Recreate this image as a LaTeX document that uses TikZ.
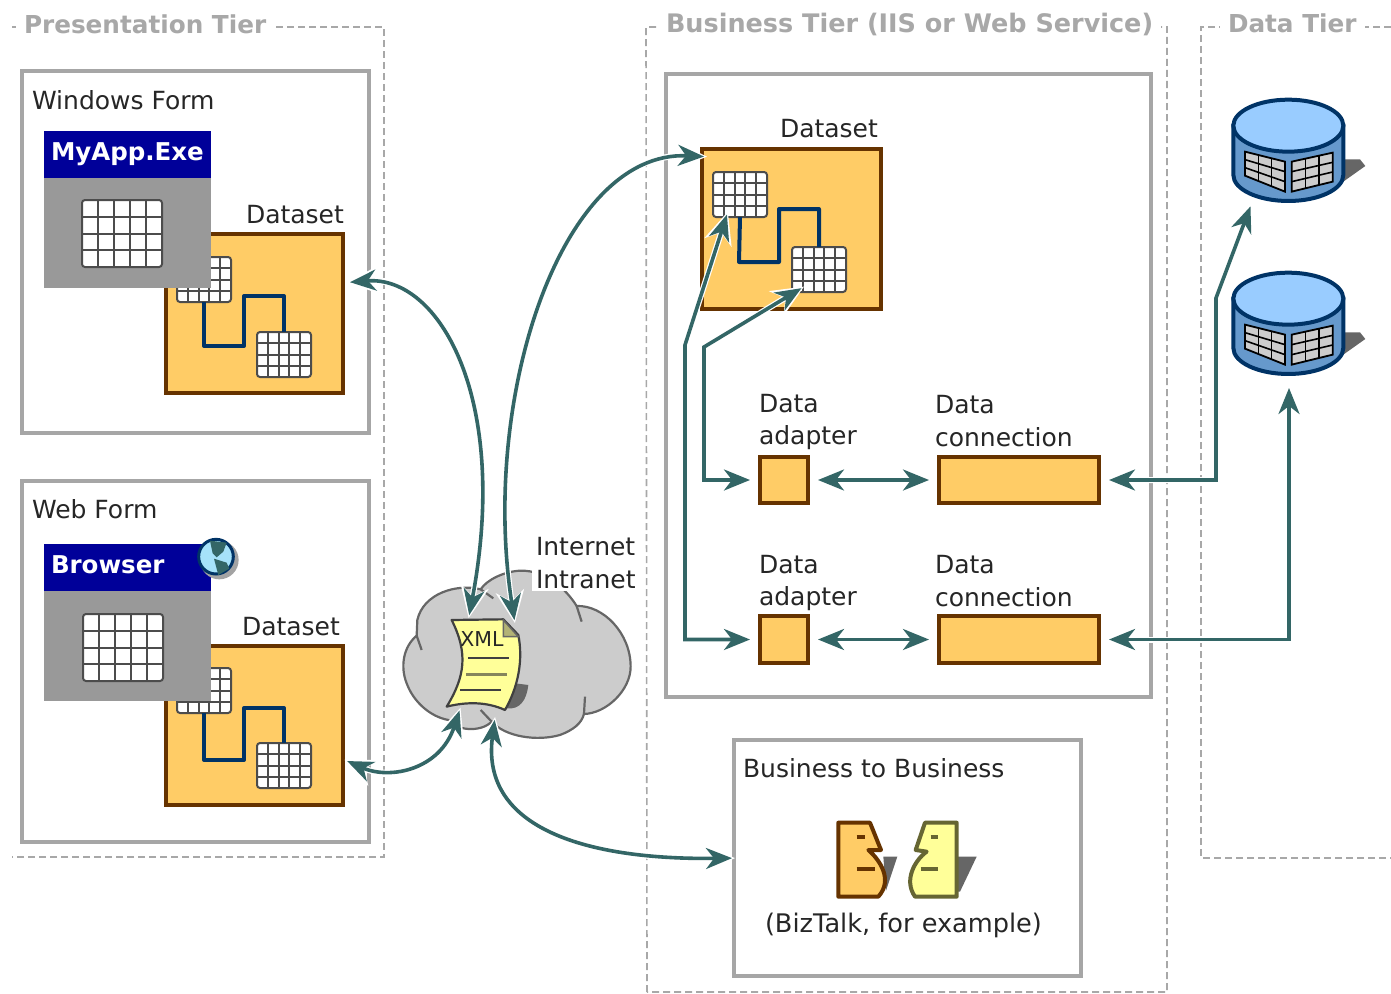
\documentclass[tikz,border=0pt]{standalone}
\usepackage{fontspec}
\setmainfont{DejaVu Sans}
\usepackage{tikz}
\usetikzlibrary{calc, arrows.meta}

\definecolor{tiergray}{HTML}{A8A8A8}
\definecolor{boxgray}{HTML}{A6A6A6}
\definecolor{datafill}{HTML}{FFCC66}
\definecolor{databrown}{HTML}{663300}
\definecolor{linkblue}{HTML}{003366}
\definecolor{winblue}{HTML}{000099}
\definecolor{wingray}{HTML}{999999}
\definecolor{flowteal}{HTML}{336666}
\definecolor{cloudfill}{HTML}{CCCCCC}
\definecolor{notefill}{HTML}{FFFF99}
\definecolor{noteline}{HTML}{666633}
\definecolor{dbtop}{HTML}{99CCFF}
\definecolor{dbside}{HTML}{6699CC}
\definecolor{shadowgray}{HTML}{666666}

\newcommand{\dbpanel}[4]{%
    \fill[cloudfill] (#1) -- (#2) -- (#3) -- (#4) -- cycle;
    \foreach \i in {1,2} {
        \draw[line width=1.6pt] ($(#1)!\i/3!(#2)$) -- ($(#4)!\i/3!(#3)$);
        \draw[line width=1.6pt] ($(#1)!\i/3!(#4)$) -- ($(#2)!\i/3!(#3)$);
    }
    \draw[line width=1.8pt] (#1) -- (#2) -- (#3) -- (#4) -- cycle;
}

\tikzset{
    every node/.style={inner sep=0pt, outer sep=0pt},
    textlabel/.style={font=\fontsize{25}{32.5}\selectfont, align=left, anchor=west, text=black!85},
    tiertitle/.style={font=\bfseries\fontsize{24.7}{30}\selectfont, text=tiergray, fill=white, inner xsep=8pt, inner ysep=3pt},
    tierline/.style={draw=tiergray, line width=1.6pt, dash pattern=on 7pt off 4pt},
    panelbox/.style={draw=boxgray, line width=4pt, fill=white, anchor=north west},
    datasetbox/.style={draw=databrown, line width=4pt, fill=datafill, anchor=north west, minimum width=177pt, minimum height=159pt},
    partbox/.style={draw=databrown, line width=4pt, fill=datafill, anchor=north west},
    tablebox/.style={draw=black!70, line width=2pt, fill=white, rounded corners=3pt, anchor=north west,
        path picture={
            \foreach \k in {1,...,4} {
                \draw[black!70, line width=2pt]
                    ($(path picture bounding box.north west)!\k/5!(path picture bounding box.north east)$) --
                    ($(path picture bounding box.south west)!\k/5!(path picture bounding box.south east)$);
            }
            \foreach \k in {1,...,3} {
                \draw[black!70, line width=2pt]
                    ($(path picture bounding box.north west)!\k/4!(path picture bounding box.south west)$) --
                    ($(path picture bounding box.north east)!\k/4!(path picture bounding box.south east)$);
            }
        }},
    smalltable/.style={tablebox, minimum width=54pt, minimum height=45pt},
    bigtable/.style={tablebox, minimum width=80pt, minimum height=67pt},
    winhead/.style={fill=winblue, text=white, font=\bfseries\fontsize{24.5}{30}\selectfont, anchor=north west,
        text width=153pt, inner xsep=7pt, text height=18pt, text depth=7pt, inner ysep=11pt},
    winbody/.style={fill=wingray, anchor=north west, minimum width=167pt, minimum height=110pt},
    tablelink/.style={draw=linkblue, line width=4pt, line join=round},
    flowtip/.tip={Stealth[length=26pt, width=21pt, inset=8pt]},
    halotip/.tip={Stealth[length=32pt, width=28pt, inset=10pt]},
    flow/.style={draw=flowteal, line width=3.6pt, shorten <=10pt, shorten >=10pt, flowtip-flowtip,
        preaction={draw=white, line width=6pt, shorten <=7pt, shorten >=7pt, halotip-halotip}},
    pics/dbstack/.style={code={
        \begin{scope}[x=0.3333pt, y=-0.3333pt]
            \fill[shadowgray] (450,238) -- (510,238) -- (526,258) -- (450,312) -- cycle;
            \draw[draw=linkblue, fill=dbside, line width=4pt] (130,137) -- (130,285)
                arc[start angle=180, end angle=0, x radius=165, y radius=78] -- (460,137) -- cycle;
            \draw[draw=linkblue, fill=dbtop, line width=4pt] (295,137) ellipse[x radius=165, y radius=78];
            \coordinate (pa) at (165,215);
            \coordinate (pb) at (285,245);
            \coordinate (pc) at (285,335);
            \coordinate (pd) at (165,287);
            \dbpanel{pa}{pb}{pc}{pd}
            \coordinate (pa) at (305,245);
            \coordinate (pb) at (428,218);
            \coordinate (pc) at (428,305);
            \coordinate (pd) at (305,335);
            \dbpanel{pa}{pb}{pc}{pd}
        \end{scope}
    }},
}

\begin{document}
\begin{tikzpicture}[x=1pt, y=-1pt]
        \useasboundingbox (0,0) rectangle (1391,993);

        % tiers
        \draw[tierline] (12,27) -- (384,27) -- (384,857) -- (12,857);
        \draw[tierline] (647,992) -- (646,27) -- (1167,27) -- (1167,992) -- cycle;
        \draw[tierline] (1391,27) -- (1201,27) -- (1201,858) -- (1391,858);
        \node[tiertitle, anchor=west] (tierPres) at (16,24) {Presentation Tier};
        \node[tiertitle, anchor=west, font=\bfseries\fontsize{25.5}{30}\selectfont] (tierBiz) at (658,24) {Business Tier (IIS or Web Service)};
        \node[tiertitle, anchor=west] (tierData) at (1220,23) {Data Tier};

        % windows form
        \node[panelbox, minimum width=347pt, minimum height=362pt] (formWin) at (22,71) {};
        \node[textlabel] (labelWin) at (32,100) {Windows Form};
        \node[datasetbox] (datasetWin) at (166,234) {};
        \node[textlabel] (labelSetWin) at (246,215) {Dataset};
        \node[smalltable] (gridWinA) at (177,257) {};
        \node[smalltable] (gridWinB) at (257,332) {};
        \draw[tablelink] (gridWinA.south) -- ++(0,44) -- ++(40,0) -- ++(0,-50) -- ++(40,0) -- (gridWinB.north);
        \node[winhead] (headApp) at (44,131) {MyApp.Exe};
        \node[winbody] (bodyApp) at (44,178) {};
        \node[bigtable] (gridApp) at (82,200) {};

        % web form
        \node[panelbox, minimum width=347pt, minimum height=361pt] (formWeb) at (22,481) {};
        \node[textlabel] (labelWeb) at (32,509) {Web Form};
        \node[datasetbox] (datasetWeb) at (166,646) {};
        \node[textlabel] (labelSetWeb) at (242,627) {Dataset};
        \node[smalltable] (gridWebA) at (177,668) {};
        \node[smalltable] (gridWebB) at (257,743) {};
        \draw[tablelink] (gridWebA.south) -- ++(0,47) -- ++(40,0) -- ++(0,-52) -- ++(40,0) -- (gridWebB.north);
        \node[winhead] (headBrowser) at (44,544) {Browser};
        \node[winbody] (bodyBrowser) at (44,591) {};
        \node[bigtable] (gridBrowser) at (83,614) {};

        % globe
        \begin{scope}[shift={(30,520)}, x=0.3333pt, y=-0.3333pt]
            \fill[shadowgray!60] (568,120) circle[radius=58];
            \draw[draw=linkblue, fill=cyan!35, line width=3pt] (558,110) circle[radius=52];
            \fill[flowteal] (540,62) -- (590,68) -- (580,95) -- (560,112) -- (548,100) -- cycle;
            \fill[flowteal] (552,116) -- (590,128) -- (598,146) -- (565,165) -- cycle;
        \end{scope}

        % business tier
        \node[panelbox, minimum width=485pt, minimum height=623pt] (bizBox) at (666,74) {};
        \node[textlabel] (labelSetBiz) at (780,129) {Dataset};
        \node[datasetbox, minimum width=179pt, minimum height=160pt] (datasetBiz) at (702,149) {};
        \node[smalltable] (gridBizA) at (713,172) {};
        \node[smalltable] (gridBizB) at (792,247) {};
        \draw[tablelink] (gridBizA.south) -- ++(-1,45) -- ++(40,0) -- ++(0,-53) -- ++(40,0) -- (gridBizB.north);

        \node[partbox, minimum width=48pt, minimum height=46pt] (adapterA) at (760,457) {};
        \node[partbox, minimum width=160pt, minimum height=46pt] (connA) at (939,457) {};
        \node[partbox, minimum width=48pt, minimum height=47pt] (adapterB) at (760,616) {};
        \node[partbox, minimum width=160pt, minimum height=47pt] (connB) at (939,616) {};
        \node[textlabel] (labelAdapterA) at (759,422) {Data\\adapter};
        \node[textlabel] (labelConnA) at (935,421) {Data\\connection};
        \node[textlabel] (labelAdapterB) at (759,583) {Data\\adapter};
        \node[textlabel] (labelConnB) at (935,581) {Data\\connection};

        % business to business
        \node[panelbox, minimum width=347pt, minimum height=236pt] (partnerBox) at (734,740) {};
        \node[textlabel] (labelPartner) at (743,768) {Business to Business};
        \node[textlabel, font=\fontsize{25.6}{32}\selectfont] (labelBiztalk) at (765,925) {(BizTalk, for example)};
        \begin{scope}[shift={(800,800)}, x=0.3333pt, y=-0.3333pt]
            \fill[shadowgray] (250,170) -- (292,170) -- (258,272) -- cycle;
            \fill[shadowgray] (470,170) -- (530,170) -- (480,275) -- (470,275) -- cycle;
            \draw[draw=databrown, fill=datafill, line width=4pt, line join=round] (115,68) -- (210,68) -- (243,150) -- (205,150)
                .. controls (240,180) and (280,240) .. (235,290) -- (115,290) -- cycle;
            \draw[databrown, line width=4pt] (170,112) -- (195,112);
            \draw[databrown, line width=4pt] (170,208) -- (225,208);
            \draw[draw=noteline, fill=notefill, line width=4pt, line join=round] (375,68) -- (470,68) -- (470,290) -- (345,290)
                .. controls (310,240) and (345,180) .. (380,155) -- (347,150) -- cycle;
            \draw[noteline, line width=4pt] (392,112) -- (415,112);
            \draw[noteline, line width=4pt] (362,208) -- (415,208);
        \end{scope}

        % data tier
        \pic at (1190,80) {dbstack};
        \pic at (1190,253) {dbstack};

        % cloud and xml note
        \begin{scope}[shift={(390,520)}, x=0.3333pt, y=-0.3333pt]
            \draw[draw=black!60, fill=cloudfill, line width=2.2pt] (80,347)
                .. controls (40,380) and (30,440) .. (50,490)
                .. controls (70,545) and (120,590) .. (175,600)
                .. controls (195,630) and (270,640) .. (305,605)
                .. controls (345,650) and (440,665) .. (510,645)
                .. controls (550,630) and (575,610) .. (582,582)
                .. controls (650,580) and (722,510) .. (722,440)
                .. controls (722,340) and (640,255) .. (560,258)
                .. controls (530,210) and (470,150) .. (390,152)
                .. controls (340,155) and (290,180) .. (272,208)
                .. controls (200,190) and (100,220) .. (82,300) -- cycle;
            \draw[black!60, line width=2.2pt] (80,347) -- (95,390);
            \draw[black!60, line width=2.2pt] (272,208) -- (310,235);
            \draw[black!60, line width=2.2pt] (560,258) -- (575,305);
            \draw[black!60, line width=2.2pt] (582,582) -- (585,530);
            \draw[black!60, line width=2.2pt] (305,605) -- (272,570);
            \fill[shadowgray] (350,565) .. controls (390,570) and (410,540) .. (415,495) -- (375,490) -- cycle;
            \draw[draw=black!75, fill=notefill, line width=2.2pt, line join=round] (185,300) -- (340,298) -- (385,345)
                .. controls (400,420) and (385,500) .. (345,570)
                .. controls (290,545) and (230,545) .. (170,560)
                .. controls (225,470) and (235,400) .. (185,300) -- cycle;
            \draw[draw=black!60, fill=black!25!notefill!80!gray, line width=1.5pt] (340,300) -- (340,350) -- (385,350) -- cycle;
            \draw[black!75, line width=2pt] (235,413) -- (358,413);
            \draw[noteline!80, line width=2.4pt] (228,463) -- (352,463);
            \draw[black!75, line width=2pt] (210,511) -- (332,511);
            \coordinate (xmlTopL) at (232,315);
            \coordinate (xmlTopR) at (378,330);
            \coordinate (xmlBotL) at (218,543);
            \coordinate (xmlBotR) at (318,570);
        \end{scope}
        \node[font=\fontsize{20.5}{24}\selectfont, text=black!85] (labelXml) at (482,639) {XML};
        \node[textlabel, fill=white, inner xsep=4pt, inner ysep=2pt] (labelNet) at (532,563) {Internet\\Intranet};

        % ports
        \coordinate (portSetWin) at (340,283);
        \coordinate (portSetWeb) at (338,757);
        \coordinate (portSetBiz) at (714,157);
        \coordinate (portGridA) at (730,205);
        \coordinate (portGridB) at (810,283);
        \coordinate (portDbA) at (1254,197);
        \coordinate (portDbB) at (1289,378);
        \coordinate (kinkA) at (704,347);
        \coordinate (kinkB) at (685,345);
        \coordinate (kinkC) at (1216,298);

        % connectors
        \path[flow] (portSetWin) .. controls (440,275) and (510,400) .. (xmlTopL);
        \path[flow] (xmlTopR) .. controls (480,400) and (560,150) .. (portSetBiz);
        \path[flow] (portSetWeb) .. controls (390,780) and (440,770) .. (xmlBotL);
        \path[flow] (xmlBotR) .. controls (480,830) and (590,860) .. ([xshift=8pt]partnerBox.west);
        \path[flow] (adapterA.west) -| (kinkA) -- (portGridB);
        \path[flow] (adapterB.west) -| (kinkB) -- (portGridA);
        \path[flow] (adapterA.east) -- (connA.west);
        \path[flow] (adapterB.east) -- (connB.west);
        \path[flow] (connA.east) -| (kinkC) -- (portDbA);
        \path[flow] (connB.east) -| (portDbB);
\end{tikzpicture}
\end{document}
